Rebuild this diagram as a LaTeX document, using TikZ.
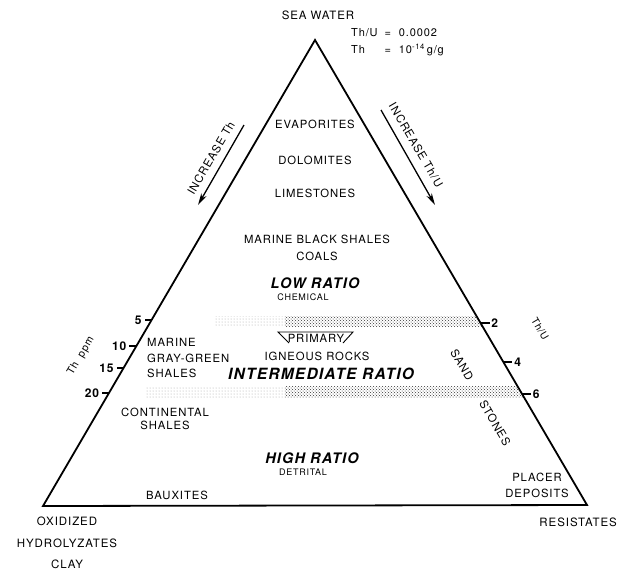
\documentclass[tikz,border=0pt]{standalone}
\usepackage{fontspec}
\setmainfont{TeX Gyre Heros}[LetterSpace=8]
\usetikzlibrary{arrows.meta,calc,patterns}
\definecolor{dotcol}{gray}{0.2}

\begin{document}
\begin{tikzpicture}[x=1pt,y=-1pt,
  every node/.style={inner sep=0pt},
  lbl/.style={font=\fontsize{11.3}{15}\selectfont},
  corner/.style={font=\fontsize{11.5}{21.5}\selectfont, align=center},
  ratio/.style={font=\fontsize{14.5}{16}\selectfont\bfseries\itshape},
  note/.style={font=\fontsize{9}{10}\selectfont},
  num/.style={font=\fontsize{12}{13}\selectfont\bfseries},
  edge/.style={line width=1.8pt, line join=miter},
  trend/.style={line width=1.3pt, -{Stealth[length=12pt,width=6pt]}}]
  \useasboundingbox (0,0) rectangle (618,571);
  \coordinate (top) at (315,40);
  \coordinate (bl) at (43,506);
  \coordinate (br) at (587,505);

  % stippled bands between the ratio fields
  \begin{scope}
    \clip (top) -- (bl) -- (br) -- cycle;
    \fill[pattern=dots, pattern color=dotcol!45] (215,316) rectangle (285,326);
    \fill[pattern=crosshatch dots, pattern color=dotcol] (285,316) rectangle (600,326);
    \fill[pattern=dots, pattern color=dotcol!45] (145,386) rectangle (285,397);
    \fill[pattern=crosshatch dots, pattern color=dotcol] (285,386) rectangle (600,397);
  \end{scope}

  \draw[edge] (top) -- (bl) -- (br) -- cycle;

  % Th scale (left) and Th/U scale (right)
  \foreach \t/\v in {0.399/5,0.343/10,0.296/15,0.2425/20}
    \draw[edge] ($(bl)!\t!(top)$) -- ++(-7,0) node[num,left=2pt] (th\v) {\v};
  \foreach \t/\v in {0.6086/2,0.6925/4,0.761/6}
    \draw[edge] ($(top)!\t!(br)$) -- ++(9,0) node[num,right=1pt] (tu\v) {\v};
  \node[note,font=\fontsize{10.5}{12}\selectfont,rotate=59.7] (thppm) at (81,356) {Th\ \ ppm};
  \node[note,font=\fontsize{10}{12}\selectfont,rotate=-59.7] (thu) at (540,329) {Th/U};

  % trend arrows along the sides
  \coordinate (thA) at (244,125);
  \coordinate (thB) at (198,205);
  \coordinate (tuA) at (381,110);
  \coordinate (tuB) at (435,205);
  \draw[trend] (thA) -- (thB);
  \draw[trend] (tuA) -- (tuB);
  \node[lbl,rotate=59.7] (incth) at (211,158) {INCREASE Th};
  \node[lbl,rotate=-59.7] (inctu) at (416,145) {INCREASE Th/U};

  % corners
  \node[corner] (seawater) at (318,15) {SEA WATER};
  \node[corner,font=\fontsize{11}{17}\selectfont,anchor=west] (swval) at (351,42)
    {\begin{tabular}{@{}l@{\hspace{7pt}}l@{}}Th/U & = \ 0.0002\\ Th & = \ 10\textsuperscript{-14}\,g/g\end{tabular}};
  \node[corner] (oxid) at (67,543) {OXIDIZED\\HYDROLYZATES\\CLAY};
  \node[corner,anchor=east] (resist) at (617,522) {RESISTATES};

  % sediment types
  \node[lbl] (evap) at (315,124) {EVAPORITES};
  \node[lbl] (dolo) at (315,160) {DOLOMITES};
  \node[lbl] (lime) at (315,193) {LIMESTONES};
  \node[lbl,align=center,font=\fontsize{11.3}{17}\selectfont] (blackshale) at (317,248) {MARINE BLACK SHALES\\COALS};
  \node[ratio] (lowratio) at (315,283) {LOW RATIO};
  \node[note] (chemical) at (303,297) {CHEMICAL};
  \node[lbl] (primary) at (316,338) {PRIMARY};
  \draw[line width=0.9pt] ($(primary)+(-27,5)$) -- ($(primary)+(-38,-6)$)
    -- ($(primary)+(37,-6)$) -- ($(primary)+(27,5)$);
  \node[lbl] (igneous) at (317,356) {IGNEOUS ROCKS};
  \node[ratio,font=\fontsize{15.5}{17}\selectfont\bfseries\itshape] (midratio) at (321,374) {INTERMEDIATE RATIO};
  \node[lbl,align=left,anchor=west,font=\fontsize{11.3}{15.3}\selectfont] (grayshale) at (147,358) {MARINE\\GRAY-GREEN\\SHALES};
  \node[lbl,align=center,font=\fontsize{11.3}{12.5}\selectfont] (contshale) at (165,419) {CONTINENTAL\\SHALES};
  \node[lbl,rotate=-59.7] (sand) at (462,365) {SAND};
  \node[lbl,rotate=-59.7] (stones) at (495,423) {STONES};
  \node[ratio] (highratio) at (312,458) {HIGH RATIO};
  \node[note] (detrital) at (303,472) {DETRITAL};
  \node[lbl] (bauxite) at (177,495) {BAUXITES};
  \node[lbl,align=center,font=\fontsize{11.3}{16}\selectfont] (placer) at (537,485) {PLACER\\DEPOSITS};
\end{tikzpicture}
\end{document}
